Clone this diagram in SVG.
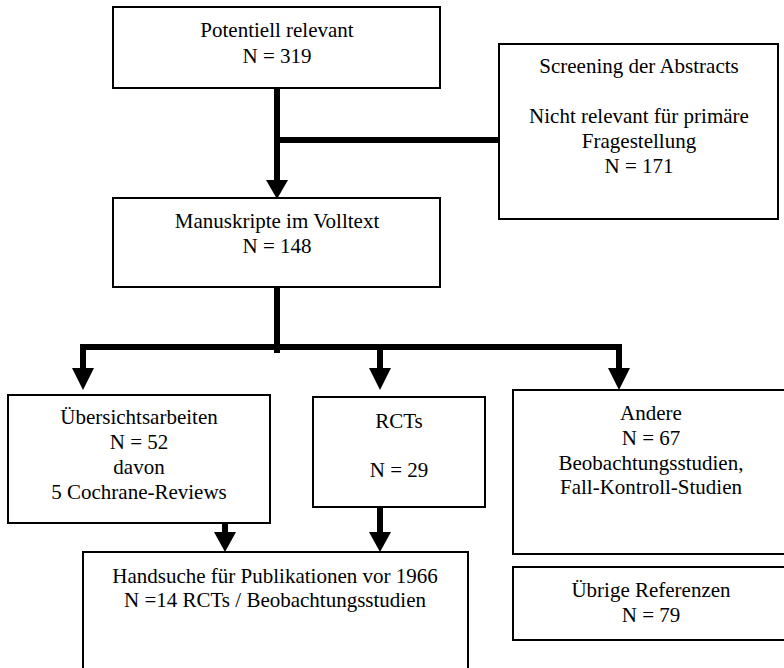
<svg xmlns="http://www.w3.org/2000/svg" width="784" height="668" viewBox="0 0 784 668">
<style>
.box{fill:#fff;stroke:#000;stroke-width:2}
.t{font-family:'Liberation Serif',serif;font-size:21px;fill:#000;text-anchor:middle}
.c{stroke:#000;stroke-width:6;fill:none}
.h{fill:#000;stroke:none}
</style>
<rect width="784" height="668" fill="#fff"/>
<g id="connectors">
<line class="c" x1="277" y1="88" x2="277" y2="182"/>
<polygon class="h" points="266,180 288,180 277,199"/>
<line class="c" x1="277" y1="140" x2="499" y2="140"/>
<line class="c" x1="277" y1="287" x2="277" y2="353"/>
<line class="c" x1="80" y1="347" x2="622" y2="347"/>
<line class="c" x1="83" y1="347" x2="83" y2="370"/>
<polygon class="h" points="72,368 94,368 83,390"/>
<line class="c" x1="380" y1="347" x2="380" y2="370"/>
<polygon class="h" points="369,368 391,368 380,390"/>
<line class="c" x1="619" y1="347" x2="619" y2="370"/>
<polygon class="h" points="608,368 630,368 619,390"/>
<line class="c" x1="225" y1="523" x2="225" y2="535"/>
<polygon class="h" points="214,532 236,532 225,552"/>
<line class="c" x1="380" y1="507" x2="380" y2="535"/>
<polygon class="h" points="369,532 391,532 380,552"/>
</g>
<g id="potentiell">
<rect class="box" x="113" y="7" width="327" height="81"/>
<text class="t" x="277" y="37" font-family="Liberation Serif">Potentiell relevant</text>
<text class="t" x="277" y="63" font-family="Liberation Serif">N = 319</text>
</g>
<g id="screening" font-family="Liberation Serif">
<rect class="box" x="499" y="44" width="279" height="175"/>
<text class="t" x="639" y="73">Screening der Abstracts</text>
<text class="t" x="639" y="123">Nicht relevant für primäre</text>
<text class="t" x="639" y="148">Fragestellung</text>
<text class="t" x="639" y="173">N = 171</text>
</g>
<g id="manuskripte">
<rect class="box" x="113" y="198" width="327" height="89"/>
<text class="t" x="277" y="228">Manuskripte im Volltext</text>
<text class="t" x="277" y="253">N = 148</text>
</g>
<g id="uebersicht">
<rect class="box" x="8" y="395" width="262" height="128"/>
<text class="t" x="139" y="424">Übersichtsarbeiten</text>
<text class="t" x="139" y="449">N = 52</text>
<text class="t" x="139" y="474">davon</text>
<text class="t" x="139" y="499">5 Cochrane-Reviews</text>
</g>
<g id="rcts">
<rect class="box" x="313" y="397" width="172" height="110"/>
<text class="t" x="399" y="428">RCTs</text>
<text class="t" x="399" y="477">N = 29</text>
</g>
<g id="andere">
<rect class="box" x="513" y="390" width="277" height="164"/>
<text class="t" x="651" y="420">Andere</text>
<text class="t" x="651" y="445">N = 67</text>
<text class="t" x="651" y="470">Beobachtungsstudien,</text>
<text class="t" x="651" y="494">Fall-Kontroll-Studien</text>
</g>
<g id="uebrige">
<rect class="box" x="513" y="567" width="277" height="73"/>
<text class="t" x="651" y="597">Übrige Referenzen</text>
<text class="t" x="651" y="622">N = 79</text>
</g>
<g id="handsuche">
<rect class="box" x="83" y="552" width="385" height="125"/>
<text class="t" x="275" y="583">Handsuche für Publikationen vor 1966</text>
<text class="t" x="275" y="607">N =14 RCTs / Beobachtungsstudien</text>
</g>
</svg>
